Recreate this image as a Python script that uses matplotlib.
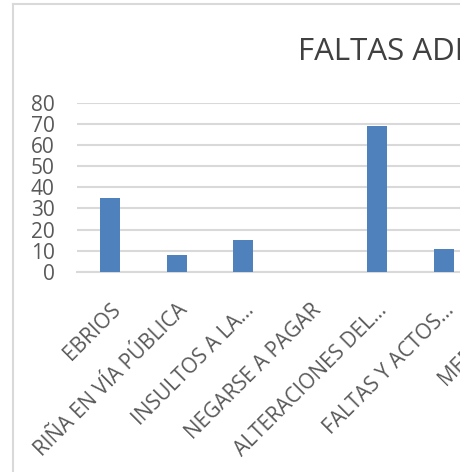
import matplotlib
matplotlib.use("Agg")
import matplotlib.pyplot as plt
from matplotlib.patches import Rectangle
from matplotlib.lines import Line2D

plt.rcParams['font.family'] = ['Open Sans', 'DejaVu Sans']

# data (last category is mostly cut off in the reference)
categories = ["EBRIOS", "RIÑA EN VÍA PÚBLICA", "INSULTOS A LA...", "NEGARSE A PAGAR",
              "ALTERACIONES DEL...", "FALTAS Y ACTOS...", "MEDIDAS..."]
values = [35, 8, 15, 0, 69, 11, 20]
yticks = [0, 10, 20, 30, 40, 50, 60, 70, 80]
title = "FALTAS ADMINISTRATIVAS"

W, H = 469, 472
fig = plt.figure(figsize=(W / 100, H / 100), dpi=100)
fig.patch.set_facecolor("white")

step = 66.7
left_px, bottom_px, top_px = 76.7, 271.7, 103
ax = fig.add_axes([left_px / W, (H - bottom_px) / H,
                   len(categories) * step / W, (bottom_px - top_px) / H])

x = list(range(len(categories)))
ax.bar(x, values, width=0.3, color="#4f81bd", zorder=3)
ax.set_xlim(-0.5, len(categories) - 0.5)
ax.set_ylim(0, 80)
ax.set_yticks(yticks)
ax.set_yticklabels([str(t) for t in yticks], fontsize=15, color="#595959")
ax.yaxis.grid(True, color="#d9d9d9", linewidth=1.5, zorder=0)
ax.set_xticks(x)
ax.set_xticklabels(categories, rotation=45, ha="right", va="top",
                   rotation_mode="anchor", fontsize=15, color="#595959")
ax.tick_params(axis="both", length=0)
ax.tick_params(axis="y", pad=16)
ax.tick_params(axis="x", pad=20)
for s in ["top", "right", "left"]:
    ax.spines[s].set_visible(False)
ax.spines["bottom"].set_color("#d9d9d9")
ax.spines["bottom"].set_linewidth(1.5)

fig.text(297.7 / W, 1 - 60 / H, title, fontsize=22.5, color="#404040",
         ha="left", va="baseline")

# chart area frame (left and top edges visible)
fig.add_artist(Line2D([12.7 / W, 12.7 / W], [0, 1 - 4 / H], color="#d9d9d9",
                      linewidth=1.5, transform=fig.transFigure))
fig.add_artist(Line2D([12.7 / W, 1], [1 - 4 / H, 1 - 4 / H], color="#d9d9d9",
                      linewidth=1.5, transform=fig.transFigure))
# the reference is cropped at the right
fig.add_artist(Rectangle((460 / W, 0), 9 / W, 1, transform=fig.transFigure,
                         facecolor="white", edgecolor="none", zorder=10))

fig.savefig("out.png", dpi=100)
